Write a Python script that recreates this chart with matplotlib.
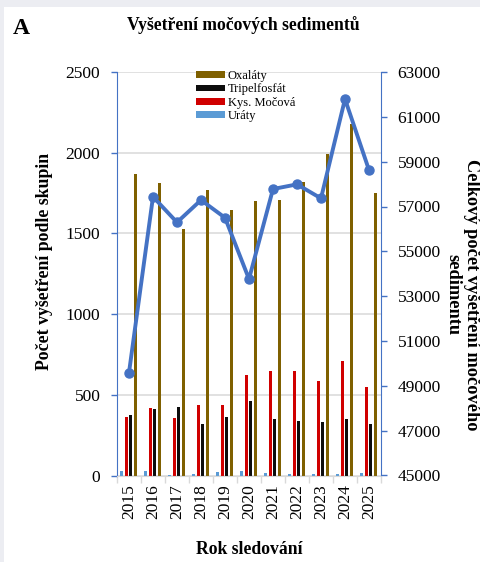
"""Urine sediment examinations by year"""
import matplotlib
matplotlib.use('Agg')
import matplotlib.pyplot as plt
import numpy as np
from matplotlib.patches import Rectangle

years = ['2015', '2016', '2017', '2018', '2019', '2020', '2021', '2022', '2023', '2024', '2025']
oxalaty = [1868, 1810, 1525, 1767, 1647, 1701, 1705, 1818, 1990, 2178, 1748]
tripelfosfat = [373, 412, 422, 321, 360, 462, 350, 338, 331, 350, 321]
kys_mocova = [360, 416, 354, 435, 435, 621, 649, 649, 584, 707, 550]
uraty = [28, 28, 2, 11, 22, 30, 17, 9, 9, 11, 17]
celkem = [49590, 57435, 56293, 57288, 56499, 53764, 57779, 57988, 57364, 61793, 58626]

plt.rcParams['font.family'] = ['Liberation Serif', 'DejaVu Serif']

blue_axis = '#4472c4'
grid_gray = '#d9d9d9'

fig = plt.figure(figsize=(4.81, 5.62), dpi=100)
fig.patch.set_facecolor('#ecedf2')
# white card on the gray page
fig.patches.append(Rectangle((4 / 481, 0), 1, 1 - 7 / 562, transform=fig.transFigure,
                             facecolor='white', edgecolor='none', zorder=-10))

ax = fig.add_axes([117 / 481, 86.5 / 562, 264 / 481, 403.5 / 562])
ax.set_facecolor('none')

x = np.arange(len(years))
step = 0.19
width = 0.125
series = [
    (uraty, '#5b9bd5', 'Uráty'),
    (kys_mocova, '#d00000', 'Kys. Močová'),
    (tripelfosfat, '#0d0d0d', 'Tripelfosfát'),
    (oxalaty, '#7f6000', 'Oxaláty'),
]
bars = {}
for i, (vals, color, label) in enumerate(series):
    bars[label] = ax.bar(x + (i - 1.6) * step, vals, width=width, color=color, label=label, zorder=2)

ax.set_xlim(-0.5, len(years) - 0.5)
ax.set_ylim(0, 2500)
ax.set_yticks(range(0, 2501, 500))
ax.yaxis.grid(True, color=grid_gray, linewidth=1.1, zorder=0)
ax.set_axisbelow(True)

# category boundaries as tick marks, year labels at centers
ax.set_xticks(np.arange(-0.5, len(years), 1.0))
ax.set_xticklabels([])
ax.set_xticks(x, minor=True)
ax.set_xticklabels(years, minor=True, rotation=90, fontsize=12.5)
ax.tick_params(axis='x', which='major', length=5, color=grid_gray, width=1)
ax.tick_params(axis='x', which='minor', length=0, pad=6)
ax.tick_params(axis='y', length=4, color=blue_axis, width=1, labelsize=12.5, pad=8)

for side in ['top', 'right']:
    ax.spines[side].set_visible(False)
ax.spines['bottom'].set_color(grid_gray)
ax.spines['left'].set_color(blue_axis)

ax2 = ax.twinx()
ax2.plot(x, celkem, color=blue_axis, linewidth=2.8, marker='o', markersize=6.5, zorder=3)
ax2.set_ylim(45000, 63000)
ax2.set_yticks(range(45000, 63001, 2000))
ax2.tick_params(axis='y', length=4, color=blue_axis, width=1, labelsize=12.5, pad=8)
for side in ['top', 'left', 'bottom']:
    ax2.spines[side].set_visible(False)
ax2.spines['right'].set_color(blue_axis)

leg = ax.legend([bars['Oxaláty'], bars['Tripelfosfát'], bars['Kys. Močová'], bars['Uráty']],
                ['Oxaláty', 'Tripelfosfát', 'Kys. Močová', 'Uráty'],
                loc='upper left', bbox_to_anchor=(0.282, 1.017), frameon=False, fontsize=9,
                handlelength=2.25, handleheight=0.45, handletextpad=0.25, labelspacing=0.1,
                borderaxespad=0)

ax.set_xlabel('Rok sledování', fontsize=12.7, fontweight='bold', labelpad=16)
fig.text(45 / 481, 1 - 261 / 562, 'Počet vyšetření podle skupin', rotation=90,
         ha='center', va='center', fontsize=12.8, fontweight='bold')
fig.text(462.5 / 481, 1 - 295 / 562, 'Celkový počet vyšetření močového\nsedimentu', rotation=270,
         ha='center', va='center', fontsize=13.2, fontweight='bold', linespacing=1.15,
         multialignment='center')

fig.text(243 / 481, 1 - 25 / 562, 'Vyšetření močových sedimentů', ha='center', va='center',
         fontsize=12.7, fontweight='bold')
fig.text(13 / 481, 1 - 29 / 562, 'A', ha='left', va='center', fontsize=17, fontweight='bold')

fig.savefig('out.png', dpi=100, facecolor=fig.get_facecolor())
